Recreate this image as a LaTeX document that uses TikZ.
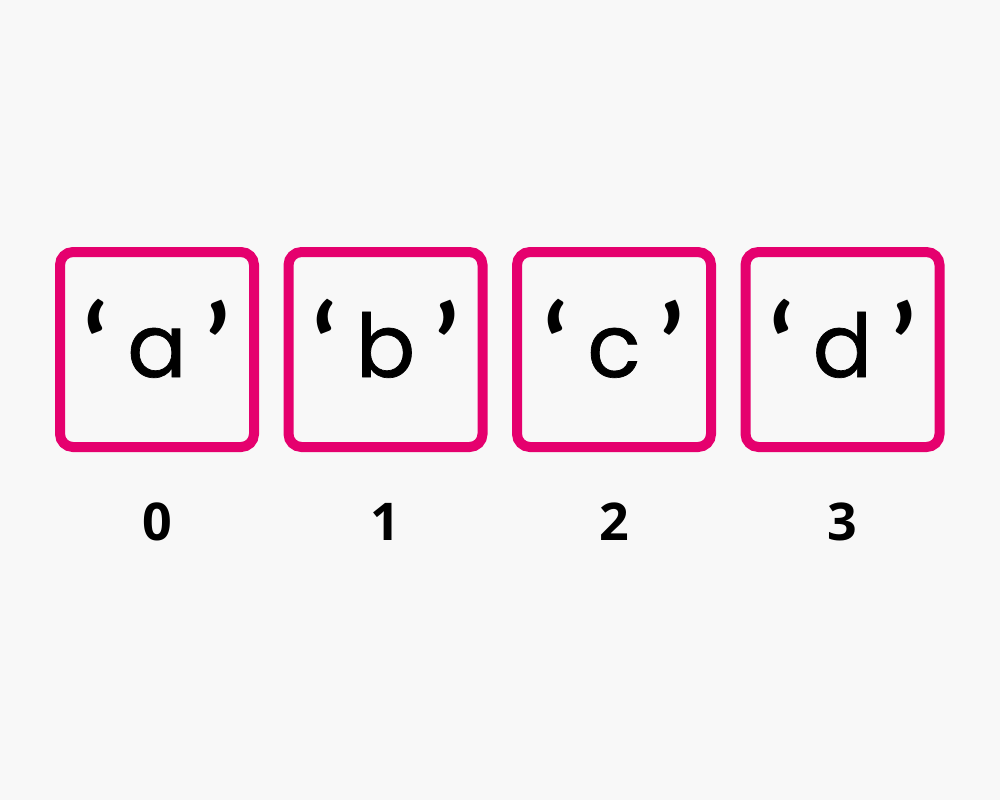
\documentclass[tikz,border=0pt]{standalone}
\usepackage{fontspec}
\setmainfont{Poppins}
\newfontfamily\chfont[FakeBold=0.8]{Poppins}
\newfontfamily\numfont{Open Sans}
\newfontfamily\qfont{Lato}
\definecolor{bg}{HTML}{F8F8F8}
\definecolor{pinkc}{HTML}{E5006E}
\newcommand{\myLq}{\raisebox{-9pt}{\qfont\bfseries\fontsize{112}{112}\selectfont ‘}}
\newcommand{\myRq}{\raisebox{-9pt}{\qfont\bfseries\fontsize{112}{112}\selectfont ’}}
\begin{document}
\begin{tikzpicture}[x=1pt,y=-1pt,
  cell/.style={draw=pinkc,line width=10pt,rounded corners=13pt,minimum width=194pt,minimum height=195pt,inner sep=0pt},
  chr/.style={anchor=base,font=\chfont\fontsize{88}{88}\selectfont,inner sep=0pt},
  idx/.style={anchor=base,font=\numfont\bfseries\fontsize{52}{52}\selectfont,inner sep=0pt}]
\fill[bg] (0,0) rectangle (1000,800);
\useasboundingbox (0,0) rectangle (1000,800);
\foreach \i/\x/\c in {0/157/a,1/385.5/b,2/614/c,3/842.5/d}{
  \node[cell] (box\i) at (\x,349.5) {};
  \node[chr] (ch\i) at (\x,377) {\myLq\hspace{19pt}\c\hspace{19pt}\myRq};
  \node[idx] (n\i) at (\x,540) {\i};
}
\end{tikzpicture}
\end{document}
